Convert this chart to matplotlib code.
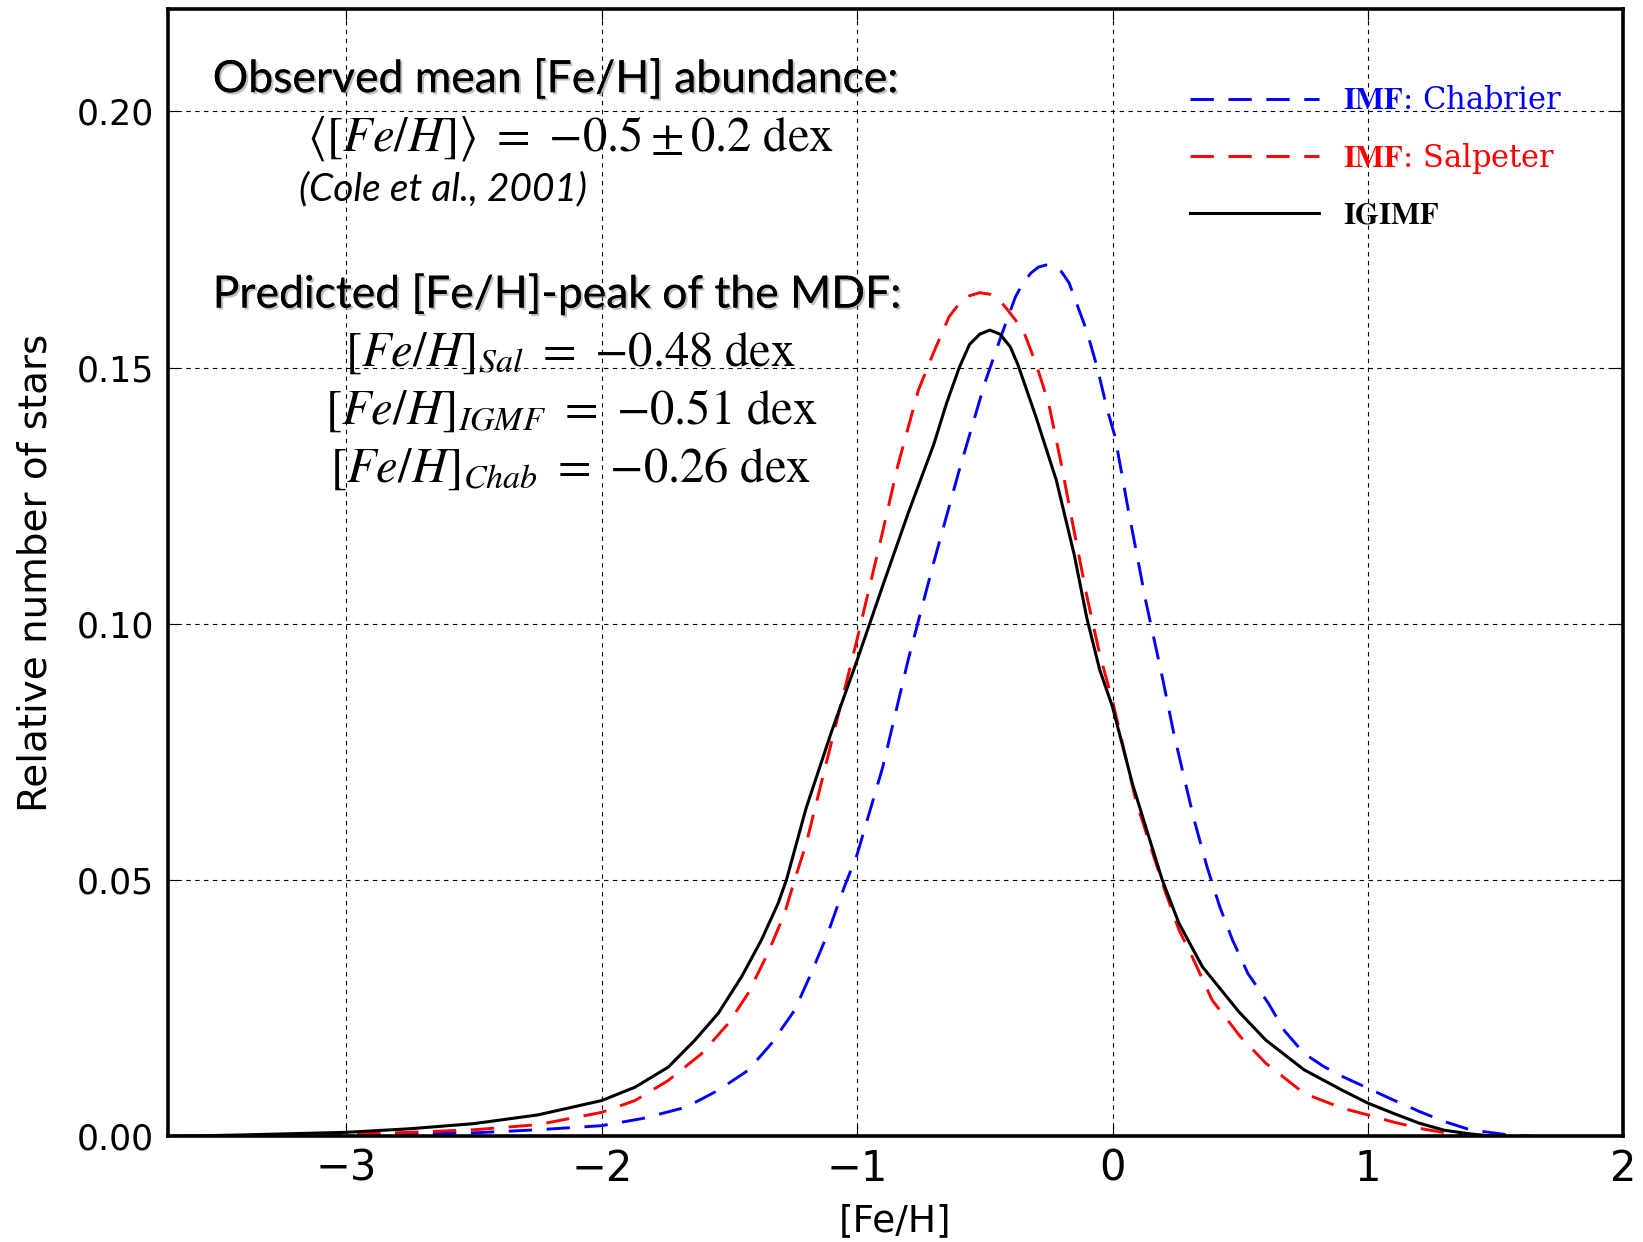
import matplotlib
matplotlib.use("Agg")
import matplotlib.pyplot as plt
import matplotlib.patheffects as pe

# MDF curves
x_chab = [-3.7, -3.0, -2.5, -2.25, -2.0, -1.84, -1.67, -1.544, -1.427, -1.336, -1.245, -1.18,
          -1.115, -1.05, -1.0, -0.9, -0.8, -0.7, -0.6, -0.5, -0.43, -0.38, -0.35, -0.32, -0.29,
          -0.26, -0.23, -0.2, -0.17, -0.15, -0.1, -0.06, -0.02, 0.01, 0.06, 0.13, 0.195, 0.24,
          0.28, 0.32, 0.37, 0.42, 0.47, 0.53, 0.61, 0.675, 0.75, 0.825, 0.9, 1.0, 1.1, 1.2, 1.3,
          1.4, 1.55, 1.65]
y_chab = [0.0, 0.0002, 0.0007, 0.0013, 0.0021, 0.0035, 0.0057, 0.009, 0.0129, 0.0181, 0.0246,
          0.0318, 0.0396, 0.0487, 0.055, 0.072, 0.093, 0.112, 0.130, 0.147, 0.157, 0.1638, 0.1665,
          0.1684, 0.1696, 0.170, 0.1697, 0.1687, 0.1665, 0.1638, 0.157, 0.150, 0.1417, 0.1365,
          0.1227, 0.1045, 0.0896, 0.0786, 0.0701, 0.0617, 0.0526, 0.0448, 0.0383, 0.0318, 0.026,
          0.0205, 0.0162, 0.0137, 0.0117, 0.0094, 0.0071, 0.0049, 0.0029, 0.0013, 0.0003, 0.0]

x_salp = [-3.7, -3.0, -2.75, -2.5, -2.25, -2.0, -1.87, -1.74, -1.61, -1.505, -1.427, -1.35,
          -1.284, -1.245, -1.2, -1.1, -1.0, -0.9, -0.84, -0.76, -0.7, -0.64, -0.6, -0.56, -0.52,
          -0.48, -0.44, -0.41, -0.35, -0.3, -0.25, -0.2, -0.15, -0.1, -0.05, 0.0, 0.091, 0.195,
          0.26, 0.3125, 0.39, 0.5, 0.6, 0.75, 0.9, 1.0, 1.1, 1.2, 1.35, 1.45]
y_salp = [0.0, 0.0004, 0.0008, 0.0013, 0.0023, 0.0047, 0.007, 0.0109, 0.0161, 0.022, 0.0279,
          0.0357, 0.0435, 0.050, 0.057, 0.077, 0.097, 0.118, 0.131, 0.1456, 0.153, 0.1599, 0.1625,
          0.1640, 0.1646, 0.1643, 0.1630, 0.1612, 0.1573, 0.1508, 0.143, 0.131, 0.118, 0.1053,
          0.094, 0.085, 0.0656, 0.0494, 0.0403, 0.035, 0.0266, 0.0195, 0.0143, 0.0084, 0.0055,
          0.0042, 0.0028, 0.0016, 0.0003, 0.0]

x_igimf = [-3.7, -3.4, -3.0, -2.75, -2.5, -2.25, -2.0, -1.87, -1.74, -1.635, -1.544, -1.453,
           -1.375, -1.31, -1.277, -1.2, -1.1, -1.0, -0.9, -0.8, -0.7, -0.65, -0.6, -0.56, -0.52,
           -0.48, -0.44, -0.4, -0.37, -0.3, -0.22, -0.15, -0.1, -0.05, 0.0, 0.078, 0.13, 0.195,
           0.26, 0.352, 0.495, 0.6, 0.75, 0.9, 1.0, 1.1, 1.2, 1.3, 1.4, 1.5]
y_igimf = [0.0, 0.0003, 0.0008, 0.0015, 0.0025, 0.0042, 0.0070, 0.0096, 0.0135, 0.0188, 0.024,
           0.0311, 0.0383, 0.0454, 0.050, 0.0640, 0.0790, 0.0929, 0.1074, 0.1216, 0.1350, 0.1430,
           0.1500, 0.1545, 0.1565, 0.1573, 0.1565, 0.1540, 0.1505, 0.1404, 0.1280, 0.1135, 0.1010,
           0.0910, 0.0838, 0.0688, 0.0604, 0.050, 0.0416, 0.0331, 0.0243, 0.0188, 0.0130, 0.0090,
           0.0065, 0.0045, 0.0026, 0.0012, 0.0005, 0.0]

x_ticks = [-3, -2, -1, 0, 1, 2]
y_ticks = [0.00, 0.05, 0.10, 0.15, 0.20]

plt.rcParams['mathtext.fontset'] = 'stix'

fig = plt.figure(figsize=(16.43, 12.42), dpi=100)
ax = fig.add_axes([0.102, 0.085, 0.886, 0.908])

dash = (0, (8, 5))
ax.plot(x_chab, y_chab, color='blue', lw=2.1, ls=dash,
        label=r'$\mathbf{IMF}$: Chabrier')
ax.plot(x_salp, y_salp, color='red', lw=2.1, ls=dash,
        label=r'$\mathbf{IMF}$: Salpeter')
ax.plot(x_igimf, y_igimf, color='black', lw=2.2, label=r'$\mathbf{IGIMF}$')

ax.set_xlim(-3.7, 2)
ax.set_ylim(0, 0.22)
ax.set_xticks(x_ticks)
ax.set_yticks(y_ticks)
ax.set_xticklabels(['\u22123', '\u22122', '\u22121', '0', '1', '2'],
                   family='DejaVu Sans', fontsize=30)
ax.set_yticklabels(['%.2f' % v for v in y_ticks], family='DejaVu Sans', fontsize=25)
ax.tick_params(axis='x', pad=8, direction='in', length=8, top=True)
ax.tick_params(axis='y', pad=10, direction='in', length=8, right=True)

ax.grid(True, color='black', ls=(0, (4, 4)), lw=0.8)
for s in ax.spines.values():
    s.set_linewidth(2.6)

ax.set_xlabel('[Fe/H]', family='DejaVu Sans', fontsize=27, va='center')
ax.xaxis.set_label_coords(0.5, -0.0754)
ax.set_ylabel('Relative number of stars', family='DejaVu Sans', fontsize=28, labelpad=16)

leg = ax.legend(loc='upper left', bbox_to_anchor=(0.7026, 0.932), frameon=False,
                prop={'family': 'DejaVu Serif', 'size': 22}, handlelength=4.2,
                handletextpad=0.8, labelspacing=0.79, borderpad=0, borderaxespad=0,
                labelcolor='linecolor')

shadow = [pe.withSimplePatchShadow(offset=(1.5, -1.5), shadow_rgbFace='gray', alpha=0.5),
          pe.Normal()]
head = dict(transform=ax.transAxes, family='Lato', fontsize=32, va='baseline',
            path_effects=shadow)
ax.text(0.031, 0.926, 'Observed mean [Fe/H] abundance:', **head)
ax.text(0.031, 0.735, 'Predicted [Fe/H]-peak of the MDF:', **head)
ax.text(0.090, 0.830, '(Cole et al., 2001)', transform=ax.transAxes, family='Lato',
        fontsize=28, va='baseline', style='italic')

eq = dict(transform=ax.transAxes, fontsize=35, ha='center', va='baseline')
ax.text(0.277, 0.8745, r'$\langle[Fe/H]\rangle\ =\ {-0.5} \pm 0.2\ \mathrm{dex}$', **eq)
ax.text(0.277, 0.683, r'$[Fe/H]_{Sal}\ =\ {-0.48}\ \mathrm{dex}$', **eq)
ax.text(0.277, 0.632, r'$[Fe/H]_{IGMF}\ =\ {-0.51}\ \mathrm{dex}$', **eq)
ax.text(0.277, 0.581, r'$[Fe/H]_{Chab}\ =\ {-0.26}\ \mathrm{dex}$', **eq)

fig.savefig('out.png', dpi=100)
